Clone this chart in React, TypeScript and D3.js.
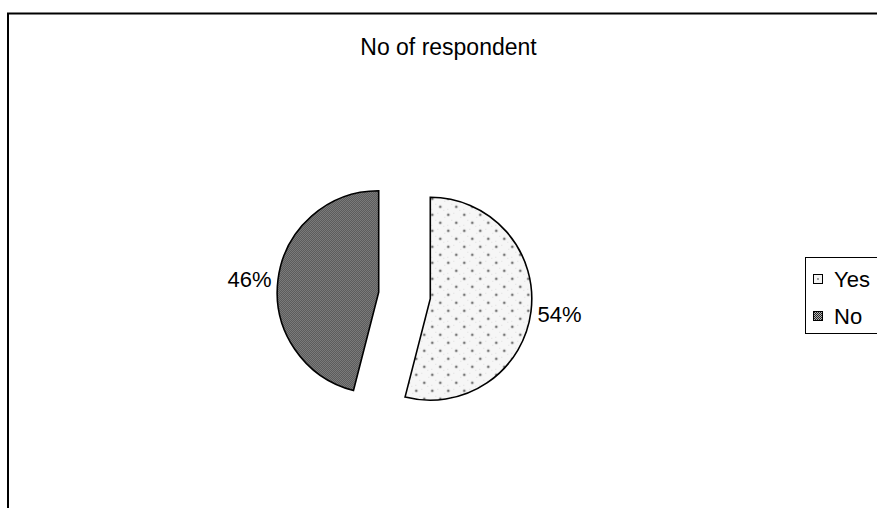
import React from "react";
import * as d3 from "d3";

// Survey answers shown in the pie
const categories = ["Yes", "No"];
const values = [54, 46];
const labels = ["54%", "46%"];
const title = "No of respondent";

const W = 877;
const H = 508;
const FONT = "'Liberation Sans', Arial, Helvetica, sans-serif";

export default function App() {
  const cx = 404.5;
  const cy = 295.5;
  const r = 101.5;
  const explode = 26;

  const pie = d3
    .pie<number>()
    .sort(null)
    .startAngle(0)
    .endAngle(2 * Math.PI)
    .value((d) => d);
  const arcs = pie(values);
  const arcGen = d3.arc<d3.PieArcDatum<number>>().innerRadius(0).outerRadius(r);

  const fills = ["url(#dots)", "url(#checker)"];

  const legendX = 805;
  const legendY = 257;
  const rowY = d3.scalePoint<string>().domain(categories).range([279, 316]);

  return (
    <svg
      width={W}
      height={H}
      style={{ position: "absolute", left: 0, top: 0, background: "#fff" }}
    >
      <defs>
        <pattern id="dots" patternUnits="userSpaceOnUse" width={16} height={16}>
          <rect width={16} height={16} fill="#f6f6f6" />
          <g fill="#dcdcdc" shapeRendering="crispEdges">
            <rect x={5} y={1} width={1} height={1} />
            <rect x={13} y={7} width={1} height={1} />
            <rect x={7} y={10} width={1} height={1} />
            <rect x={14} y={14} width={1} height={1} />
            <rect x={1} y={6} width={1} height={1} />
          </g>
          <circle cx={10} cy={4} r={1.5} fill="#a8a8a8" />
          <circle cx={10} cy={4} r={0.8} fill="#333" />
          <circle cx={2} cy={12} r={1.5} fill="#a8a8a8" />
          <circle cx={2} cy={12} r={0.8} fill="#333" />
        </pattern>
        <pattern id="checker" patternUnits="userSpaceOnUse" width={2} height={2}>
          <rect width={2} height={2} fill="#b4b4b4" shapeRendering="crispEdges" />
          <rect x={0} y={0} width={1} height={1} fill="#222" shapeRendering="crispEdges" />
          <rect x={1} y={1} width={1} height={1} fill="#222" shapeRendering="crispEdges" />
        </pattern>
      </defs>

      {/* chart area frame */}
      <rect
        x={8}
        y={13.5}
        width={W + 20}
        height={H + 20}
        fill="none"
        stroke="#000"
        strokeWidth={2}
      />

      <text
        x={448.5}
        y={55}
        textAnchor="middle"
        fontFamily={FONT}
        fontSize={23}
        fill="#000"
      >
        {title}
      </text>

      {arcs.map((a, i) => {
        const mid = (a.startAngle + a.endAngle) / 2;
        const dx = Math.sin(mid) * explode;
        const dy = -Math.cos(mid) * explode;
        const lr = r + 6.5;
        const lx = Math.sin(mid) * lr;
        const ly = -Math.cos(mid) * lr;
        const right = Math.sin(mid) > 0;
        return (
          <g key={categories[i]} transform={`translate(${cx + dx},${cy + dy})`}>
            <path
              d={arcGen(a) || ""}
              fill={fills[i]}
              stroke="#000"
              strokeWidth={1.6}
              strokeLinejoin="miter"
            />
            <text
              x={lx}
              y={ly + (right ? 2 : 0)}
              dy="0.36em"
              textAnchor={right ? "start" : "end"}
              fontFamily={FONT}
              fontSize={22}
              fill="#000"
            >
              {labels[i]}
            </text>
          </g>
        );
      })}

      {/* legend */}
      <rect
        x={legendX + 0.5}
        y={legendY + 0.5}
        width={120}
        height={76}
        fill="#fff"
        stroke="#000"
        strokeWidth={1}
      />
      {categories.map((c, i) => {
        const y = rowY(c) as number;
        return (
          <g key={c}>
            <rect
              x={813.5}
              y={y - 4.5}
              width={9}
              height={9}
              fill={i === 0 ? "#f3f3f3" : "url(#checker)"}
              stroke="#000"
              strokeWidth={1}
            />
            {i === 0 && <circle cx={818} cy={y} r={0.9} fill="#777" />}
            <text
              x={834}
              y={y + 8}
              fontFamily={FONT}
              fontSize={22}
              fill="#000"
            >
              {c}
            </text>
          </g>
        );
      })}
    </svg>
  );
}
